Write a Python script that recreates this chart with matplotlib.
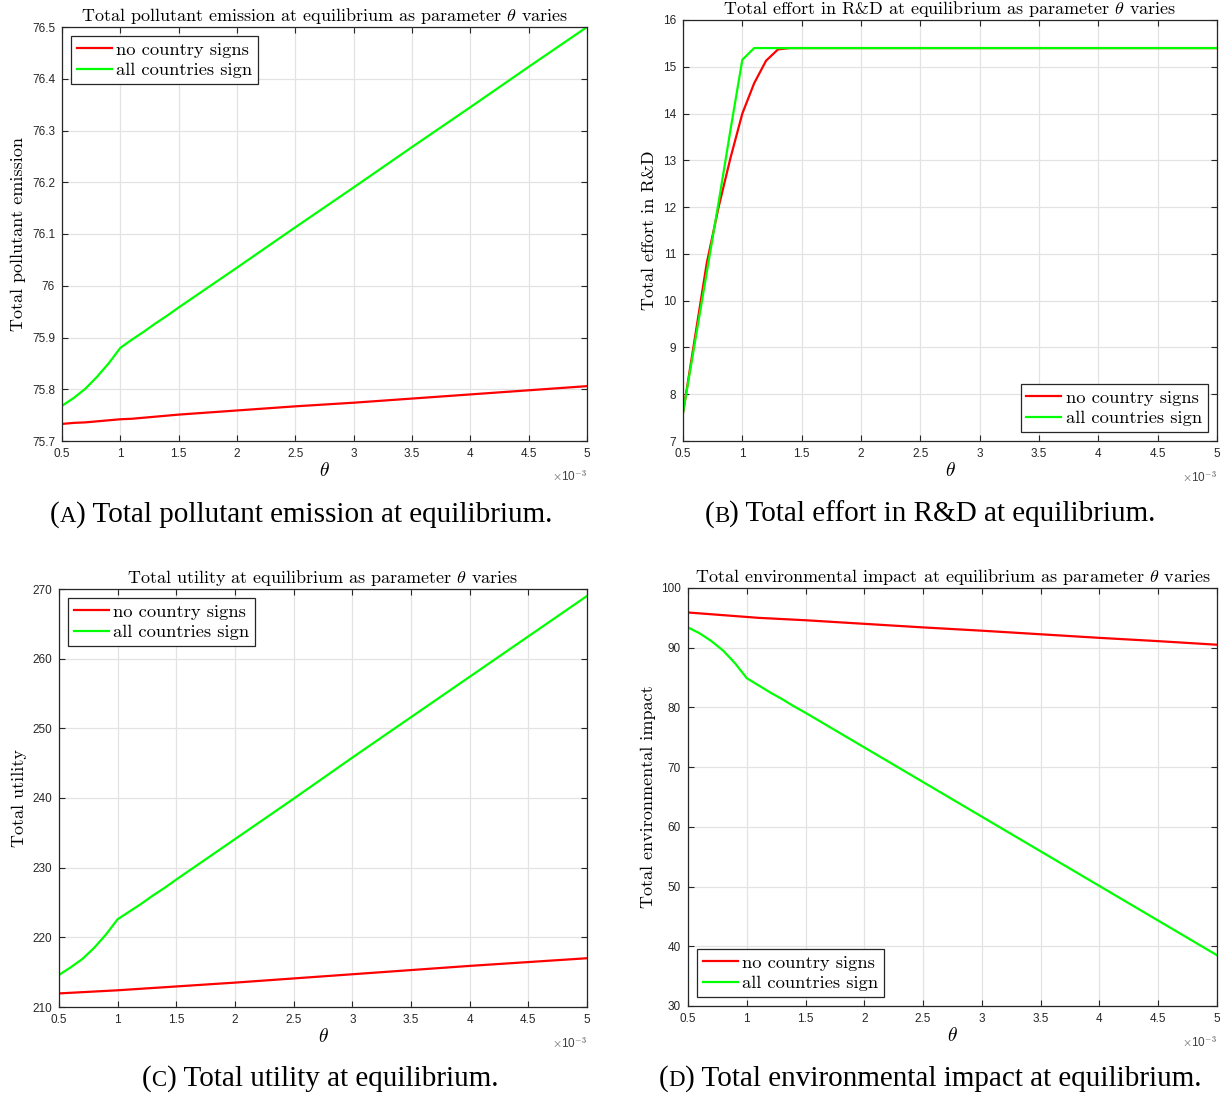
import matplotlib
matplotlib.use("Agg")
import matplotlib.pyplot as plt

plt.rcParams['mathtext.fontset'] = 'cm'
plt.rcParams['axes.unicode_minus'] = False

# theta values (in units of 1e-3)
theta = [0.5, 0.6, 0.7, 0.8, 0.9, 1.0, 1.1, 1.2, 1.3, 1.4, 1.5,
         2.0, 2.5, 3.0, 3.5, 4.0, 4.5, 5.0]

emission_none = [75.733, 75.735, 75.736, 75.738, 75.740, 75.742, 75.743, 75.745,
                 75.747, 75.749, 75.751, 75.759, 75.767, 75.774, 75.782, 75.790,
                 75.798, 75.806]
emission_all = [75.768, 75.783, 75.801, 75.824, 75.850, 75.880, 75.896, 75.911,
                75.927, 75.942, 75.958, 76.035, 76.113, 76.190, 76.268, 76.345,
                76.423, 76.500]

rd_none = [7.6, 9.2, 10.8, 12.0, 13.05, 14.0, 14.65, 15.13, 15.37, 15.4, 15.4,
           15.4, 15.4, 15.4, 15.4, 15.4, 15.4, 15.4]
rd_all = [7.6, 9.1, 10.6, 12.1, 13.65, 15.15, 15.4, 15.4, 15.4, 15.4, 15.4,
          15.4, 15.4, 15.4, 15.4, 15.4, 15.4, 15.4]

utility_none = [211.95, 212.04, 212.13, 212.22, 212.31, 212.4, 212.51, 212.62,
                212.73, 212.84, 212.95, 213.5, 214.1, 214.7, 215.3, 215.9,
                216.45, 217.0]
utility_all = [214.6, 215.7, 216.9, 218.5, 220.4, 222.6, 223.7, 224.8, 226.0,
               227.1, 228.3, 234.1, 239.9, 245.8, 251.6, 257.4, 263.2, 269.0]

impact_none = [95.9, 95.75, 95.6, 95.45, 95.3, 95.15, 95.0, 94.9, 94.8, 94.7,
               94.6, 94.0, 93.4, 92.85, 92.25, 91.65, 91.1, 90.5]
impact_all = [93.4, 92.4, 91.1, 89.5, 87.4, 84.9, 83.7, 82.5, 81.4, 80.2, 79.1,
              73.3, 67.5, 61.7, 55.9, 50.1, 44.3, 38.5]

series_labels = ['no country signs', 'all countries sign']
xticks = [0.5, 1, 1.5, 2, 2.5, 3, 3.5, 4, 4.5, 5]
xticklabels = ['0.5', '1', '1.5', '2', '2.5', '3', '3.5', '4', '4.5', '5']

W, H = 1222, 1094
fig = plt.figure(figsize=(W / 100, H / 100), dpi=100)

AX_COL = '#262626'
CM = 'cmr10'
SANS = 'Liberation Sans'


def px_axes(l, t, r, b):
    return fig.add_axes([l / W, 1 - b / H, (r - l) / W, (b - t) / H])


def style(ax, ylim, yticks, yticklabels):
    ax.set_xlim(0.5, 5)
    ax.set_ylim(*ylim)
    ax.set_xticks(xticks)
    ax.set_xticklabels(xticklabels)
    ax.set_yticks(yticks)
    ax.set_yticklabels(yticklabels)
    ax.grid(True, color='#e3e3e3', linewidth=0.9)
    ax.set_axisbelow(True)
    ax.tick_params(direction='in', length=4, width=0.8, colors=AX_COL,
                   top=True, right=True, labelsize=8.5, pad=5)
    for lab in ax.get_xticklabels() + ax.get_yticklabels():
        lab.set_fontfamily(SANS)
    for s in ax.spines.values():
        s.set_color(AX_COL)
        s.set_linewidth(0.9)
    ax.set_xlabel(r'$\theta$', fontsize=14, labelpad=1)
    ax.text(1.0, -0.068, r'$\times$10$^{\mathsf{-3}}$', transform=ax.transAxes,
            ha='right', va='top', fontsize=8.5, color='#404040', family=SANS)


def plot_panel(ax, y_none, y_all, title, ylabel, loc):
    ax.plot(theta, y_none, color='#ff0000', lw=1.6, label=series_labels[0])
    ax.plot(theta, y_all, color='#00ff00', lw=1.6, label=series_labels[1])
    ax.set_title(title, family=CM, fontsize=13, pad=4)
    ax.set_ylabel(ylabel, family=CM, fontsize=13, labelpad=4)
    leg = ax.legend(loc=loc, prop={'family': CM, 'size': 13.3}, frameon=True,
                    fancybox=False, edgecolor=AX_COL, framealpha=1,
                    handlelength=1.9, handletextpad=0.25, borderpad=0.3,
                    labelspacing=0.25, borderaxespad=0.5)
    leg.get_frame().set_linewidth(0.9)


axA = px_axes(62, 27, 587, 441)
plot_panel(axA, emission_none, emission_all,
           r'Total pollutant emission at equilibrium as parameter $\theta$ varies',
           'Total pollutant emission', 'upper left')
style(axA, (75.7, 76.5), [75.7 + 0.1 * i for i in range(9)],
      ['75.7', '75.8', '75.9', '76', '76.1', '76.2', '76.3', '76.4', '76.5'])

axB = px_axes(683, 20, 1217, 441)
plot_panel(axB, rd_none, rd_all,
           r'Total effort in R&D at equilibrium as parameter $\theta$ varies',
           'Total effort in R&D', 'lower right')
style(axB, (7, 16), list(range(7, 17)), [str(v) for v in range(7, 17)])

axC = px_axes(59, 589, 587, 1007)
plot_panel(axC, utility_none, utility_all,
           r'Total utility at equilibrium as parameter $\theta$ varies',
           'Total utility', 'upper left')
style(axC, (210, 270), list(range(210, 271, 10)), [str(v) for v in range(210, 271, 10)])

axD = px_axes(688, 588, 1217, 1006)
plot_panel(axD, impact_none, impact_all,
           r'Total environmental impact at equilibrium as parameter $\theta$ varies',
           'Total environmental impact', 'lower left')
style(axD, (30, 100), list(range(30, 101, 10)), [str(v) for v in range(30, 101, 10)])

# Captions with small-caps letters
SERIF = 'Liberation Serif'
fig.canvas.draw()
renderer = fig.canvas.get_renderer()


def caption(cx, cy, letter, rest, size=21):
    pieces = [('(', size), (letter, size * 0.78), (') ' + rest, size)]
    texts = []
    for s, fs in pieces:
        t = fig.text(0, cy / H, s, fontsize=fs, family=SERIF, va='baseline',
                     ha='left', transform=fig.transFigure)
        texts.append(t)
    widths = [t.get_window_extent(renderer).width for t in texts]
    total = sum(widths)
    x = cx - total / 2
    for t, w in zip(texts, widths):
        t.set_x(x / W)
        x += w


caption(301, H - 522, 'A', 'Total pollutant emission at equilibrium.')
caption(930, H - 522, 'B', 'Total effort in R&D at equilibrium.')
caption(320, H - 1086, 'C', 'Total utility at equilibrium.')
caption(930, H - 1086, 'D', 'Total environmental impact at equilibrium.')

fig.savefig('out.png', dpi=100, facecolor='white')
